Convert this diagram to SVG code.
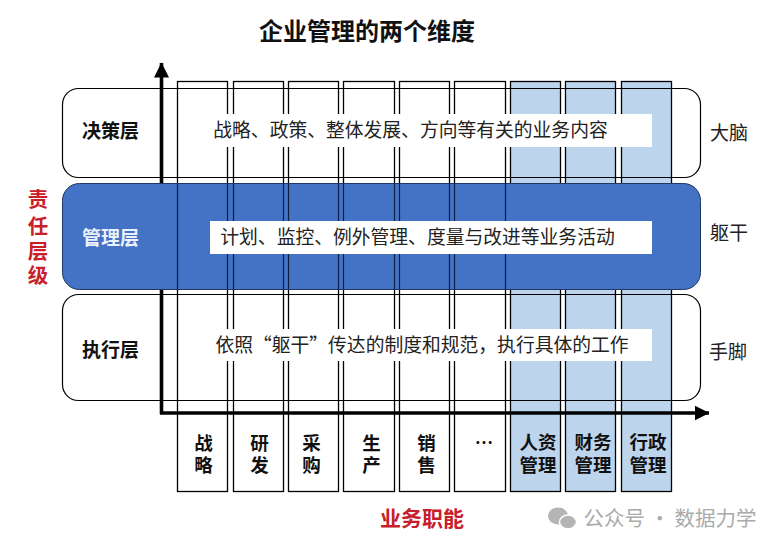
<svg xmlns="http://www.w3.org/2000/svg" width="781" height="550" viewBox="0 0 781 550">
<style>
text{font-family:"Noto Sans CJK SC","Noto Sans",sans-serif;text-anchor:middle;dominant-baseline:central}
.col{fill:#fff;stroke:#000;stroke-width:1.3}
.hr{fill:#bdd5ec}
.cl{font-size:18.5px;font-weight:700;fill:#111}
.row{fill:none;stroke:#000;stroke-width:1.2}
.lab{fill:#fff}
.rl{font-size:19px;font-weight:700;fill:#111}
.body{font-size:18.8px;fill:#222}
.side{font-size:19px;fill:#222}
.red{font-weight:700;fill:#c8202a}
.axis{stroke:#000;stroke-width:3.6;fill:none}
</style>
<defs>
<marker id="ah" markerUnits="userSpaceOnUse" markerWidth="16" markerHeight="16" refX="14.5" refY="7.5" orient="auto"><path d="M0 0L15 7.5L0 15Z" fill="#000"/></marker>
</defs>
<rect width="781" height="550" fill="#fff"/>
<text id="title" x="367" y="29" font-size="24" font-weight="700" fill="#111">企业管理的两个维度</text>
<g id="col-1"><rect class="col" x="177.500" y="81.500" width="50" height="410"/><text class="cl"><tspan x="203.500" y="441.500">战</tspan><tspan x="203.500" y="464">略</tspan></text></g>
<g id="col-2"><rect class="col" x="233.500" y="81.500" width="50" height="410"/><text class="cl"><tspan x="259.500" y="441.500">研</tspan><tspan x="259.500" y="464">发</tspan></text></g>
<g id="col-3"><rect class="col" x="288.500" y="81.500" width="50" height="410"/><text class="cl"><tspan x="311.500" y="441.500">采</tspan><tspan x="311.500" y="464">购</tspan></text></g>
<g id="col-4"><rect class="col" x="343.500" y="81.500" width="51" height="410"/><text class="cl"><tspan x="371.500" y="441.500">生</tspan><tspan x="371.500" y="464">产</tspan></text></g>
<g id="col-5"><rect class="col" x="399.500" y="81.500" width="50" height="410"/><text class="cl"><tspan x="426.500" y="441.500">销</tspan><tspan x="426.500" y="464">售</tspan></text></g>
<g id="col-6"><rect class="col" x="454.500" y="81.500" width="51" height="410"/><text class="cl" x="484" y="441">…</text></g>
<g id="col-7"><rect class="col hr" x="510.500" y="81.500" width="50" height="410"/><text class="cl"><tspan x="538" y="441">人资</tspan><tspan x="538" y="464">管理</tspan></text></g>
<g id="col-8"><rect class="col hr" x="565.500" y="81.500" width="50" height="410"/><text class="cl"><tspan x="593" y="441">财务</tspan><tspan x="593" y="464">管理</tspan></text></g>
<g id="col-9"><rect class="col hr" x="621.500" y="81.500" width="50" height="410"/><text class="cl"><tspan x="648" y="441">行政</tspan><tspan x="648" y="464">管理</tspan></text></g>
<g id="connectors">
<path class="axis" d="M161.500 414V63" marker-end="url(#ah)"/>
<path class="axis" d="M160 413H709" marker-end="url(#ah)"/>
</g>
<g id="row-decision"><rect class="row" x="62.500" y="88.500" width="638" height="89" rx="16"/><rect class="lab" x="210" y="114" width="442" height="33"/><text class="rl" x="110.500" y="129">决策层</text><text class="body" x="410.500" y="128">战略、政策、整体发展、方向等有关的业务内容</text></g>
<g id="row-management"><rect x="62.500" y="183.500" width="638" height="106" rx="17" fill="#4472c4" stroke="#1f3864" stroke-width="1"/><path d="M177.500 183.500V289.500M227.500 183.500V289.500M233.500 183.500V289.500M283.500 183.500V289.500M288.500 183.500V289.500M338.500 183.500V289.500M343.500 183.500V289.500M394.500 183.500V289.500M399.500 183.500V289.500M449.500 183.500V289.500M454.500 183.500V289.500M505.500 183.500V289.500" stroke="#0d1f45" stroke-width="1.2" fill="none"/><rect class="lab" x="210" y="221" width="442" height="33"/><text class="rl" x="110.500" y="236" style="fill:#eaf1fb">管理层</text><text class="body" x="417.500" y="235">计划、监控、例外管理、度量与改进等业务活动</text></g>
<g id="row-execution"><rect class="row" x="62.500" y="294.500" width="638" height="106" rx="16"/><rect class="lab" x="210" y="329" width="442" height="32"/><text class="rl" x="110.500" y="348">执行层</text><text class="body" x="422" y="343">依照“躯干”传达的制度和规范，执行具体的工作</text></g>
<g id="side-labels"><text class="side" x="729" y="131">大脑</text><text class="side" x="729" y="231">躯干</text><text class="side" x="728" y="350">手脚</text></g>
<text id="axis-y-label" class="red" font-size="20.500"><tspan x="38" y="198">责</tspan><tspan x="38" y="225">任</tspan><tspan x="38" y="250">层</tspan><tspan x="38" y="274">级</tspan></text>
<text id="axis-x-label" class="red" x="422" y="517" font-size="21">业务职能</text>
<g id="watermark" fill="#b4b4b4"><ellipse cx="558" cy="516" rx="10" ry="8.500"/><ellipse cx="568" cy="522" rx="8.500" ry="7" stroke="#fff" stroke-width="1.500"/><text x="670" y="517" font-size="20.500" style="fill:#aaa">公众号 · 数据力学</text></g>
</svg>
